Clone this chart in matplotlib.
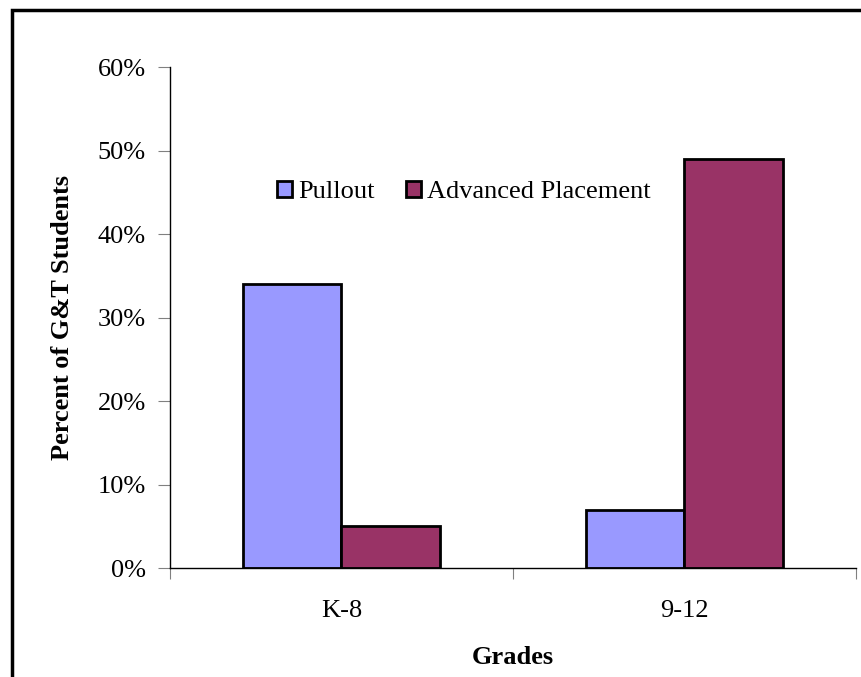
import numpy as np
import matplotlib
matplotlib.use("Agg")
import matplotlib.pyplot as plt
from matplotlib.patches import Rectangle
from matplotlib.ticker import FuncFormatter, FixedLocator

# data
grades = ["K-8", "9-12"]
series_names = ["Pullout", "Advanced Placement"]
pullout = [34, 7]
adv_placement = [5, 49]
colors = ["#9999FF", "#993366"]

plt.rcParams['font.family'] = ['Liberation Serif', 'DejaVu Serif']
plt.rcParams['font.size'] = 19

fig = plt.figure(figsize=(8.62, 6.77), dpi=100)
ax = fig.add_axes([0.1972, 0.161, 0.7958, 0.740])

x = np.arange(len(grades))
w = 0.287
ax.bar(x - w/2, pullout, w, color=colors[0], edgecolor='black', linewidth=2, label=series_names[0])
ax.bar(x + w/2, adv_placement, w, color=colors[1], edgecolor='black', linewidth=2, label=series_names[1])

ax.set_xlim(-0.5, 1.5)
ax.set_ylim(0, 60)
ax.set_yticks(np.arange(0, 61, 10))
ax.yaxis.set_major_formatter(FuncFormatter(lambda v, p: "%d%%" % v))

# category labels centered, ticks between categories
ax.xaxis.set_major_locator(FixedLocator([-0.5, 0.5, 1.5]))
ax.xaxis.set_major_formatter(FuncFormatter(lambda v, p: ""))
ax.xaxis.set_minor_locator(FixedLocator(x))
ax.set_xticklabels(grades, minor=True)
ax.tick_params(axis='x', which='minor', length=0, pad=23)
ax.tick_params(axis='x', which='major', length=8, color='#808080', direction='out')
ax.tick_params(axis='y', length=9, color='#808080', pad=8.5)

for s in ['top', 'right']:
    ax.spines[s].set_visible(False)
ax.spines['left'].set_linewidth(1.0)
ax.spines['bottom'].set_linewidth(1.0)

ax.set_ylabel("Percent of G&T Students", fontweight='bold')
ax.yaxis.set_label_coords(-0.1574, 0.5)
ax.yaxis.label.set_va('center')
ax.set_xlabel("Grades", fontweight='bold')
ax.xaxis.set_label_coords(0.5, -0.1796)
ax.xaxis.label.set_va('center')

ax.legend(loc='center', bbox_to_anchor=(0.4286, 0.7505), ncol=2, frameon=False,
          handlelength=0.57, handleheight=0.57, handletextpad=0.23,
          columnspacing=1.2, borderpad=0)

# outer chart border (right and bottom fall outside the picture)
fig.patches.append(Rectangle((12/862, -0.1), 1.2, 1 - 10/677 + 0.1,
                             transform=fig.transFigure, fill=False,
                             edgecolor='black', linewidth=2.5))

fig.savefig("out.png", dpi=100)
